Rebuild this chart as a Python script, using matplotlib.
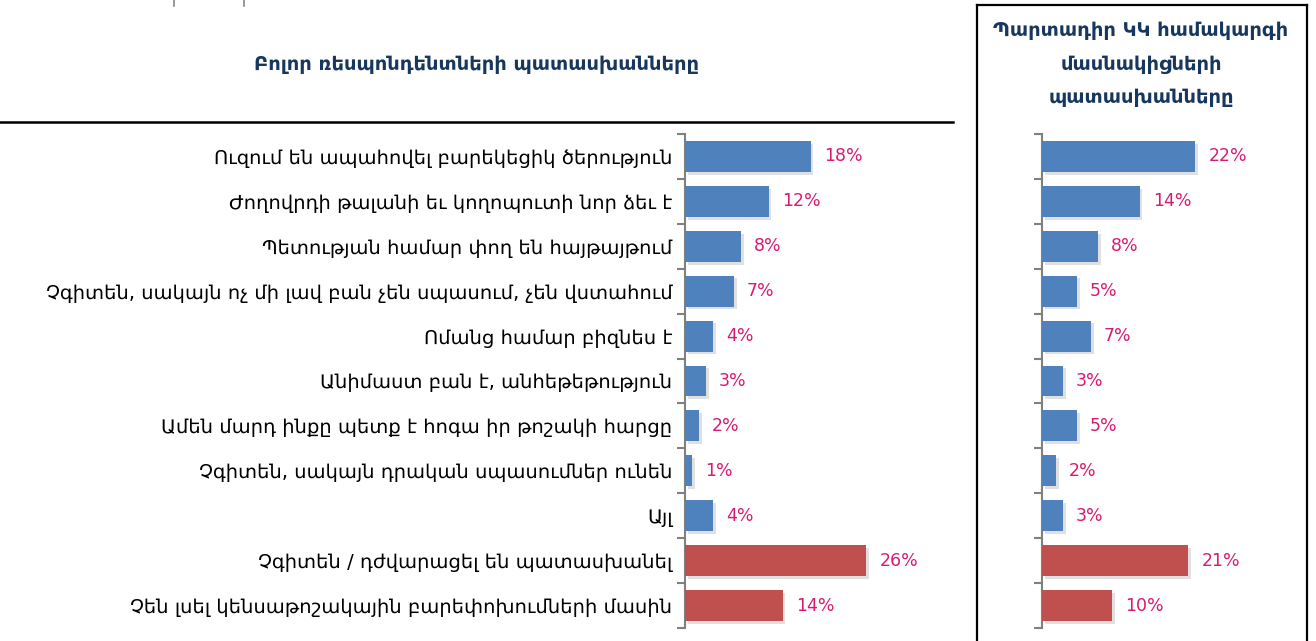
import matplotlib
matplotlib.use("Agg")
import matplotlib.pyplot as plt
import matplotlib.patheffects as pe
from matplotlib.lines import Line2D

plt.rcParams['font.family'] = ['DejaVu Sans']

# Պատասխանների տարբերակներ
categories = [
    "Ուզում են ապահովել բարեկեցիկ ծերություն",
    "Ժողովրդի թալանի եւ կողոպուտի նոր ձեւ է",
    "Պետության համար փող են հայթայթում",
    "Չգիտեն, սակայն ոչ մի լավ բան չեն սպասում, չեն վստահում",
    "Ոմանց համար բիզնես է",
    "Անիմաստ բան է, անհեթեթություն",
    "Ամեն մարդ ինքը պետք է հոգա իր թոշակի հարցը",
    "Չգիտեն, սակայն դրական սպասումներ ունեն",
    "Այլ",
    "Չգիտեն / դժվարացել են պատասխանել",
    "Չեն լսել կենսաթոշակային բարեփոխումների մասին",
]
all_resp = [18, 12, 8, 7, 4, 3, 2, 1, 4, 26, 14]
members = [22, 14, 8, 5, 7, 3, 5, 2, 3, 21, 10]
is_red = [False] * 9 + [True] * 2

title_left = "Բոլոր ռեսպոնդենտների պատասխանները"
title_right = "Պարտադիր ԿԿ համակարգի\nմասնակիցների\nպատասխանները"

blue = "#4F81BD"
red = "#C0504D"
pink = "#D81B72"
navy = "#17375E"

W, H = 1316, 641
fig = plt.figure(figsize=(W / 100, H / 100), dpi=100)


def px_axes(x0, y0, x1, y1):
    return fig.add_axes([x0 / W, 1 - y1 / H, (x1 - x0) / W, (y1 - y0) / H])


def draw_bars(ax, vals, xmax):
    y = list(range(len(vals)))
    colors = [red if r else blue for r in is_red]
    bars = ax.barh(y, vals, height=0.69, color=colors, zorder=3)
    for b in bars:
        b.set_path_effects([pe.SimplePatchShadow(offset=(2, -2), shadow_rgbFace="#999999", alpha=0.3),
                            pe.Normal()])
    for yi, v in zip(y, vals):
        ax.annotate(f"{v}%", (v, yi), xytext=(9.5, 0), textcoords="offset points",
                    ha="left", va="center", color=pink, fontsize=12.5)
    ax.set_xlim(0, xmax)
    ax.set_ylim(len(vals) - 0.5, -0.5)
    for s in ["top", "right", "bottom"]:
        ax.spines[s].set_visible(False)
    ax.spines["left"].set_color("#808080")
    ax.spines["left"].set_linewidth(1.5)
    ax.set_xticks([])
    ax.set_yticks(y)
    ax.set_yticks([i - 0.5 for i in range(len(vals) + 1)], minor=True)
    ax.tick_params(axis="y", which="major", length=0, pad=9)
    ax.tick_params(axis="y", which="minor", length=6, width=1.5, color="#808080")
    ax.patch.set_alpha(0)


ax1 = px_axes(685, 134, 950, 628)
draw_bars(ax1, all_resp, 38)
ax1.set_yticklabels(categories, fontsize=14)

ax2 = px_axes(1042, 134, 1300, 628)
draw_bars(ax2, members, 37)
ax2.set_yticklabels([])

# Վերնագրեր
fig.text(477 / W, 1 - 64 / H, title_left, ha="center", va="center",
         fontsize=14, fontweight="bold", color=navy)
fig.text(1141 / W, 1 - 64 / H, title_right, ha="center", va="center",
         fontsize=14, fontweight="bold", color=navy, linespacing=1.95)

# Գծեր եւ շրջանակ
def fig_line(x0, y0, x1, y1, **kw):
    fig.add_artist(Line2D([x0 / W, x1 / W], [1 - y0 / H, 1 - y1 / H], **kw))

fig_line(0, 122, 953, 122, color="black", lw=1.8)
fig_line(977, 5, 1307, 5, color="black", lw=1.6)
fig_line(977, 5, 977, 641, color="black", lw=1.6)
fig_line(1307, 5, 1307, 641, color="black", lw=1.6)
fig_line(174, 0, 174, 6, color="#888888", lw=1.2)
fig_line(244, 0, 244, 6, color="#888888", lw=1.2)

fig.savefig("out.png", dpi=100)
